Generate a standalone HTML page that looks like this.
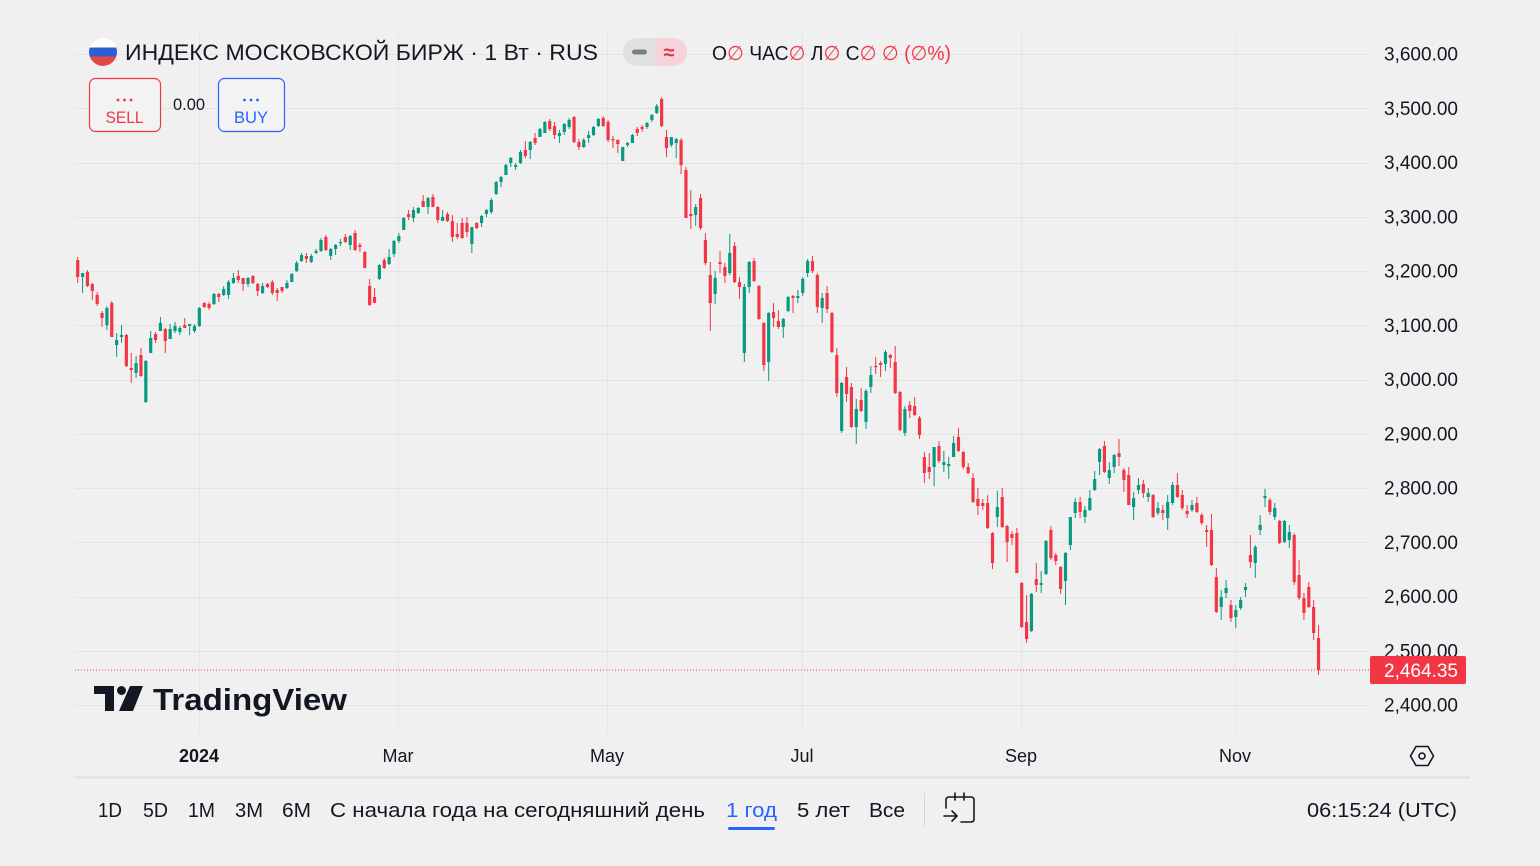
<!DOCTYPE html>
<html><head><meta charset="utf-8">
<style>
html,body{margin:0;padding:0;background:#f0f0f0;}
svg{display:block;font-family:"Liberation Sans","DejaVu Sans",sans-serif;}
</style></head>
<body>
<svg id="c" width="1540" height="866" viewBox="0 0 1540 866" xmlns="http://www.w3.org/2000/svg">
<rect width="1540" height="866" fill="#f0f0f0"/>
<g id="grid" shape-rendering="crispEdges"></g>
<g stroke="#e6e6e6" stroke-width="1" shape-rendering="crispEdges">
<line x1="199.5" y1="30" x2="199.5" y2="732"/>
<line x1="398.5" y1="30" x2="398.5" y2="732"/>
<line x1="607.5" y1="30" x2="607.5" y2="732"/>
<line x1="802.5" y1="30" x2="802.5" y2="732"/>
<line x1="1021.5" y1="30" x2="1021.5" y2="732"/>
<line x1="1235.5" y1="30" x2="1235.5" y2="732"/>
</g>
<g id="candles"></g>
<line x1="75" y1="670" x2="1370" y2="670" stroke="#f23645" stroke-width="1" stroke-dasharray="1,2"/>
<g id="prices" font-size="19" fill="#131722" text-anchor="end"></g>
<rect x="1370" y="656" width="96" height="28" rx="2" fill="#f23645"/>
<text x="1458" y="677" font-size="19" fill="#fff" text-anchor="end" textLength="74" lengthAdjust="spacingAndGlyphs">2,464.35</text>

<!-- header -->
<defs><clipPath id="fc"><circle cx="103" cy="52" r="14"/></clipPath></defs>
<g clip-path="url(#fc)">
<rect x="89" y="38" width="28" height="10" fill="#ffffff"/>
<rect x="89" y="47.5" width="28" height="9" fill="#2c5fd4"/>
<rect x="89" y="56.5" width="28" height="10" fill="#e24848"/>
</g>
<text x="125" y="60" font-size="22" fill="#131722" textLength="473" lengthAdjust="spacingAndGlyphs">ИНДЕКС МОСКОВСКОЙ БИРЖ · 1 Вт · RUS</text>
<rect x="623" y="38" width="64" height="28" rx="14" fill="#e1e1e1"/>
<path d="M655 38 H673 A14 14 0 0 1 673 66 H655 Z" fill="#f6d2db"/>
<rect x="632" y="49.5" width="15" height="5" rx="2.5" fill="#7b7e87"/>
<text x="669" y="59" font-size="20" fill="#e0304a" text-anchor="middle" font-weight="bold">≈</text>
<text x="712" y="60" font-size="20" fill="#131722" textLength="239" lengthAdjust="spacingAndGlyphs">О<tspan fill="#f23645">∅</tspan> ЧАС<tspan fill="#f23645">∅</tspan> Л<tspan fill="#f23645">∅</tspan> С<tspan fill="#f23645">∅</tspan> <tspan fill="#f23645">∅ (∅%)</tspan></text>

<rect x="89.5" y="78.5" width="71" height="53" rx="6" fill="#f3f3f3" stroke="#f23645" stroke-width="1.2"/>
<g fill="#f23645"><circle cx="118" cy="100" r="1.4"/><circle cx="124.5" cy="100" r="1.4"/><circle cx="131" cy="100" r="1.4"/></g>
<text x="124.5" y="123" font-size="17" fill="#f23645" text-anchor="middle" textLength="38" lengthAdjust="spacingAndGlyphs">SELL</text>
<text x="173" y="110" font-size="17" fill="#131722" textLength="32" lengthAdjust="spacingAndGlyphs">0.00</text>
<rect x="218.5" y="78.5" width="66" height="53" rx="6" fill="#f3f3f3" stroke="#2962ff" stroke-width="1.2"/>
<g fill="#2962ff"><circle cx="244.5" cy="100" r="1.4"/><circle cx="251" cy="100" r="1.4"/><circle cx="257.5" cy="100" r="1.4"/></g>
<text x="251" y="123" font-size="17" fill="#2962ff" text-anchor="middle" textLength="34" lengthAdjust="spacingAndGlyphs">BUY</text>

<!-- logo -->
<g fill="#131722">
<path d="M94 686 H114 V711 H105 V694 H94 Z"/>
<circle cx="121.5" cy="690.5" r="4.5"/>
<path d="M130 686 H143 L133 711 H119 Z"/>
</g>
<text x="153" y="710" font-size="31" font-weight="bold" fill="#131722" textLength="194" lengthAdjust="spacingAndGlyphs">TradingView</text>

<!-- time axis -->
<g font-size="18" fill="#131722" text-anchor="middle">
<text x="199" y="762" font-weight="bold">2024</text>
<text x="398" y="762">Mar</text>
<text x="607" y="762">May</text>
<text x="802" y="762">Jul</text>
<text x="1021" y="762">Sep</text>
<text x="1235" y="762">Nov</text>
</g>
<g fill="none" stroke="#131722" stroke-width="1.6">
<polygon points="1416,746.5 1428,746.5 1433.5,756 1428,765.5 1416,765.5 1410.5,756"/>
<circle cx="1422" cy="756" r="3"/>
</g>
<line x1="75" y1="777.5" x2="1470" y2="777.5" stroke="#e0e0e0" stroke-width="2"/>

<!-- toolbar -->
<g font-size="20" fill="#131722">
<text x="98" y="817" textLength="24" lengthAdjust="spacingAndGlyphs">1D</text>
<text x="143" y="817" textLength="25" lengthAdjust="spacingAndGlyphs">5D</text>
<text x="188" y="817" textLength="27" lengthAdjust="spacingAndGlyphs">1M</text>
<text x="235" y="817" textLength="28" lengthAdjust="spacingAndGlyphs">3M</text>
<text x="282" y="817" textLength="29" lengthAdjust="spacingAndGlyphs">6M</text>
<text x="330" y="817" textLength="375" lengthAdjust="spacingAndGlyphs">С начала года на сегодняшний день</text>
<text x="726" y="817" fill="#2962ff" textLength="51" lengthAdjust="spacingAndGlyphs">1 год</text>
<text x="797" y="817" textLength="53" lengthAdjust="spacingAndGlyphs">5 лет</text>
<text x="869" y="817" textLength="36" lengthAdjust="spacingAndGlyphs">Все</text>
<text x="1457" y="817" text-anchor="end" textLength="150" lengthAdjust="spacingAndGlyphs">06:15:24 (UTC)</text>
</g>
<rect x="728" y="827" width="47" height="3" rx="1.5" fill="#2962ff"/>
<line x1="924.5" y1="793" x2="924.5" y2="827" stroke="#d6d6d6" stroke-width="1"/>
<g fill="none" stroke="#131722" stroke-width="1.6" stroke-linecap="round" stroke-linejoin="round">
<path d="M946 808 V800 Q946 797 949 797 H971 Q974 797 974 800 V819 Q974 822 971 822 H961"/>
<line x1="955" y1="793" x2="955" y2="800"/>
<line x1="964" y1="793" x2="964" y2="800"/>
<path d="M944 816 H957 M952 811 L957 816 L952 821"/>
</g>
</svg>
<script>
(function(){
var NS="http://www.w3.org/2000/svg";
function el(n,a,p){var e=document.createElementNS(NS,n);for(var k in a)e.setAttribute(k,a[k]);p.appendChild(e);return e;}
var grid=document.getElementById('grid'),prices=document.getElementById('prices');
var labels=["3,600.00","3,500.00","3,400.00","3,300.00","3,200.00","3,100.00","3,000.00","2,900.00","2,800.00","2,700.00","2,600.00","2,500.00","2,400.00"];
for(var k=0;k<13;k++){
 var gy=54+k*54.25;
 el('line',{x1:75,y1:Math.round(gy)+0.5,x2:1368,y2:Math.round(gy)+0.5,stroke:'#e4e4e4','stroke-width':1},grid);
 var t=el('text',{x:1458,y:(gy+6.5).toFixed(1),textLength:74,lengthAdjust:'spacingAndGlyphs'},prices);
 t.textContent=labels[k];
}
var D="r,260,277,257,283;g,273,277,273,293;r,272,286,270,287;r,284,291,283,300;r,295,304,292,306;r,313,318,311,327;g,308,325,306,330;r,303,337,301,337;g,340,345,333,357;g,335,337,325,343;r,335,366,334,367;r,368,370,353,383;g,363,373,356,378;r,355,376,348,377;g,361,402,360,403;g,338,353,331,353;r,334,340,332,343;g,323,331,317,331;r,329,341,328,353;g,329,339,324,339;g,326,331,322,333;g,328,332,326,335;r,325,328,318,328;g,324,326,324,335;g,326,331,324,333;g,308,326,307,327;r,303,307,302,308;r,304,308,302,310;g,294,304,293,305;r,294,297,293,302;g,289,295,286,296;g,282,295,280,299;g,278,283,273,284;r,276,280,270,283;r,278,284,278,291;g,278,284,277,287;r,276,283,275,284;r,284,291,283,296;g,286,293,283,294;r,284,287,283,288;r,282,293,280,295;r,290,293,288,301;r,287,291,287,293;g,283,288,280,289;g,274,282,273,282;g,263,271,261,272;g,255,261,253,262;r,256,259,253,263;g,256,262,254,263;g,251,253,249,254;g,240,251,238,252;r,237,250,235,251;g,249,256,248,260;g,245,249,244,255;g,242,243,239,246;r,237,242,234,243;g,236,245,235,250;r,233,250,230,251;r,245,247,243,252;r,252,268,251,268;r,286,305,279,306;r,297,303,288,303;g,265,279,264,280;r,260,268,258,269;g,257,264,249,265;g,241,254,240,257;g,236,241,233,243;g,218,230,217,230;"+
"r,214,217,210,220;g,210,218,207,222;g,208,213,207,214;r,201,207,195,207;g,198,207,197,214;r,197,207,194,207;r,207,220,206,223;g,217,221,210,221;r,214,221,212,222;r,221,237,215,242;r,234,237,223,239;r,223,238,218,239;r,223,232,217,237;g,227,244,227,253;r,223,228,222,229;g,216,223,215,227;g,210,214,209,217;g,200,212,198,214;g,182,194,181,195;g,177,182,176,187;g,165,175,164,175;g,158,163,157,167;g,165,167,163,170;g,152,163,150,164;r,150,156,141,158;g,142,150,141,159;r,138,143,133,145;g,129,137,128,137;g,122,133,121,133;r,121,129,119,131;r,126,135,122,139;g,133,136,130,143;g,124,132,123,135;g,120,127,118,129;r,117,142,116,143;r,142,147,139,150;g,140,147,138,148;g,135,138,131,143;g,127,135,126,136;g,119,126,118,127;r,118,126,116,127;r,122,140,120,142;r,139,140,136,148;r,140,144,139,153;g,147,161,147,161;g,143,145,142,147;g,135,143,134,143;r,129,133,127,136;r,127,129,125,132;g,123,127,122,129;g,115,120,114,122;g,106,113,104,114;r,99,126,97,127;r,137,148,130,157;g,137,145,137,147;g,139,143,138,158;r,140,165,138,174;r,170,218,167,218;r,214,216,190,229;g,207,215,204,226;r,198,228,194,230;"+
"r,240,263,233,265;r,275,303,262,331;g,278,294,271,304;r,262,264,251,273;r,267,276,263,283;g,253,273,234,275;r,246,282,242,283;r,282,287,277,299;g,287,353,284,362;g,262,287,261,293;r,261,281,258,282;r,286,319,285,320;r,323,365,322,371;g,313,362,312,381;r,312,318,303,327;r,321,327,310,329;g,319,327,318,338;g,297,311,296,312;r,296,298,295,313;g,296,298,290,303;g,279,293,277,296;g,261,273,259,277;r,261,271,256,273;r,275,307,273,313;g,298,308,293,323;r,293,309,286,313;r,313,352,312,353;r,355,393,348,397;g,383,431,382,433;r,377,394,367,402;r,387,427,383,428;g,409,427,399,444;r,400,411,388,412;g,391,422,389,429;g,375,387,366,393;r,366,367,357,374;r,363,365,361,377;g,352,364,350,371;r,355,358,354,368;r,362,393,346,394;r,392,430,391,431;g,409,433,406,436;r,405,411,401,418;r,406,415,397,416;r,418,435,416,439;"+
"r,457,473,452,483;r,467,472,453,479;g,447,467,447,486;r,446,461,441,463;g,462,465,451,472;g,464,466,457,479;g,443,457,436,457;r,437,451,428,452;r,452,467,451,469;r,467,473,463,474;r,478,502,473,503;r,499,506,488,515;r,503,506,499,510;r,503,528,495,529;r,533,563,532,569;g,507,517,491,527;r,497,527,488,528;r,526,542,525,562;r,534,538,531,545;r,533,573,528,573;r,583,627,582,628;r,622,639,595,643;g,594,631,593,632;r,579,585,563,592;g,583,585,571,593;g,541,574,540,575;r,530,558,526,560;r,555,561,553,565;r,567,589,566,594;g,553,581,552,605;g,517,545,517,550;g,502,513,498,518;r,502,512,497,518;g,510,517,506,523;g,498,510,490,511;g,479,490,471,491;g,449,462,448,475;r,446,472,441,473;g,470,478,462,484;g,455,467,454,473;r,453,457,439,466;"+
"r,470,480,468,492;r,475,505,467,505;g,498,507,492,520;g,485,490,478,494;r,484,493,480,498;g,493,497,488,502;r,495,517,494,518;g,508,513,502,515;r,510,513,505,520;g,502,518,495,530;g,485,503,482,505;r,485,497,473,498;r,495,508,490,510;r,511,514,505,518;g,505,510,500,512;r,503,512,497,513;r,515,523,513,525;r,530,532,525,547;r,530,565,514,566;r,577,612,568,613;g,597,607,590,620;g,588,593,580,598;r,605,618,600,622;g,610,617,605,628;g,600,608,597,610;g,587,590,583,597;r,555,562,535,568;g,547,563,545,578;g,525,530,515,535;g,496,498,489,507;r,500,512,498,515;g,508,517,503,520;r,521,543,520,544;g,521,542,520,543;g,532,540,525,548;r,535,582,533,585;r,575,598,560,600;r,598,613,593,620;r,587,607,582,608;r,607,633,600,640;r,638,670,625,675";
var rows=D.split(';');
var pg='',pr='';
for(var i=0;i<rows.length;i++){
 var f=rows[i].split(',');
 var c=f[0],t=+f[1],b=+f[2],wt=+f[3],wb=+f[4];
 var cx=77.7+i*4.866;
 var bh=Math.max(1.2,b-t);
 var s='M'+(cx-0.5).toFixed(2)+' '+wt+'h1V'+wb+'h-1Z'+
       'M'+(cx-1.6).toFixed(2)+' '+t+'h3.2v'+bh+'h-3.2Z';
 if(c==='g')pg+=s;else pr+=s;
}
var cg=document.getElementById('candles');
el('path',{d:pg,fill:'#089981'},cg);
el('path',{d:pr,fill:'#f23645'},cg);
})();
</script>
</body></html>
